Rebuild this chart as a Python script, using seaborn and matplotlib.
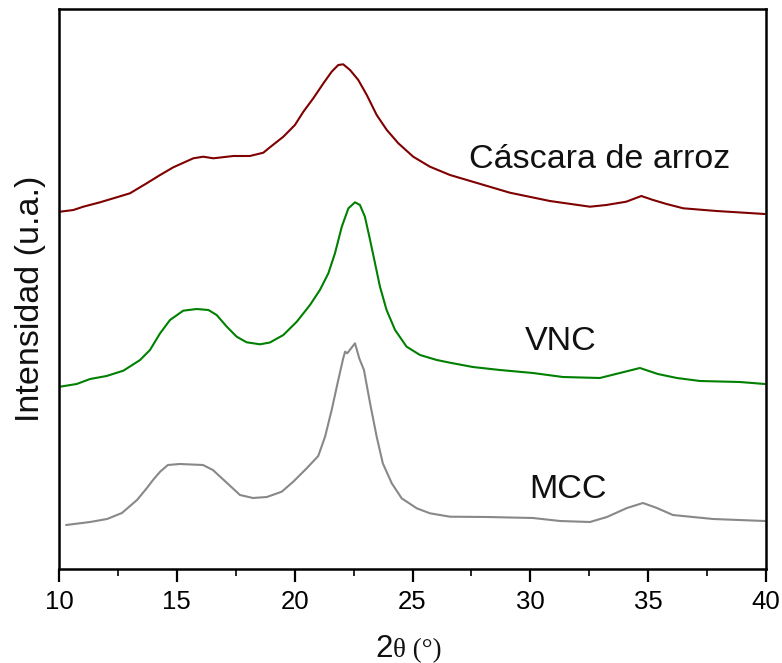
import numpy as np
import pandas as pd
import matplotlib
matplotlib.use("Agg")
import matplotlib.pyplot as plt
from matplotlib import font_manager
from matplotlib.ticker import MultipleLocator
import seaborn as sns

# ---- data (intensity in arbitrary units) ----
cascara_x = [10.04, 10.61, 11.03, 11.74, 12.45, 13.01, 13.72, 14.29, 14.85, 15.70, 16.12, 16.55,
             17.40, 18.10, 18.67, 18.95, 19.52, 20.01, 20.37, 20.79, 21.22, 21.57, 21.85, 22.06,
             22.35, 22.70, 23.06, 23.48, 23.91, 24.40, 25.03, 25.74, 26.59, 27.31, 29.13, 30.83,
             32.53, 33.22, 34.07, 34.71, 35.21, 35.78, 36.49, 37.90, 39.95]
cascara_y = [357.3, 359, 362.3, 366.7, 371.7, 375.7, 385.7, 394, 401.7, 410.7, 412.3, 410.7,
             413, 413, 416.3, 421.7, 432.3, 444, 457.3, 470.7, 485.7, 497.3, 504, 504.7,
             499, 489, 474, 454, 439, 425.7, 412.3, 402.3, 394, 389, 376.3, 368,
             362.3, 364, 367.3, 373, 369, 365, 360.7, 358, 355]

vnc_x = [10.04, 10.75, 11.32, 12.02, 12.73, 13.44, 13.86, 14.29, 14.71, 15.27, 15.84, 16.34,
         16.69, 17.12, 17.54, 17.96, 18.53, 18.95, 19.52, 20.09, 20.65, 21.07, 21.43, 21.71,
         22.00, 22.28, 22.56, 22.77, 22.98, 23.20, 23.41, 23.62, 23.90, 24.26, 24.75, 25.32,
         26.03, 26.59, 27.56, 28.71, 30.11, 31.38, 32.95, 33.80, 34.65, 35.41, 36.22, 37.20,
         38.89, 39.95]
vnc_y = [182.3, 185, 190, 193, 198.3, 209, 219, 235.7, 249, 258.3, 260, 259,
         254, 242.3, 232.3, 226.7, 224.7, 226.5, 234, 247.3, 264, 279, 295.7, 315.7,
         342.3, 360.7, 366.7, 364, 352.3, 329, 305.7, 282.3, 259, 239, 222.3, 214,
         209, 206.3, 202, 199, 196, 192, 191, 196, 201, 195, 191, 188,
         187, 185]

mcc_x = [10.30, 11.32, 12.04, 12.67, 13.31, 13.72, 13.99, 14.29, 14.62, 15.13, 16.11, 16.53,
         17.13, 17.68, 18.23, 18.82, 19.45, 19.94, 20.51, 21.00, 21.29, 21.57, 21.85, 22.06,
         22.14, 22.23, 22.56, 22.74, 22.94, 23.20, 23.48, 23.74, 24.12, 24.54, 25.18, 25.74,
         26.59, 28.16, 30.11, 31.26, 32.53, 33.25, 34.10, 34.78, 35.37, 36.05, 37.75, 39.95]
mcc_y = [44, 47, 50, 56, 69, 80.7, 89, 97.3, 104, 105, 104, 99,
         86, 74, 71, 72, 77.3, 87.3, 100.7, 113, 132.3, 159, 189, 210.7,
         217.3, 215.7, 225.7, 210.7, 199, 165.7, 132.3, 105.7, 85.7, 70.7, 60.7, 55.7,
         52.3, 52, 51, 48, 47, 52, 61, 66, 61, 54, 50, 48]

series_names = ["Cáscara de arroz", "VNC", "MCC"]
series_colors = ["#7f0000", "#008000", "#888888"]
label_pos = [(32.95, 409), (31.3, 228), (31.6, 80)]
xticks = [10, 15, 20, 25, 30, 35, 40]

# ---- figure ----
sns.set_theme(style="white")
avail = {f.name for f in font_manager.fontManager.ttflist}
base_font = "Liberation Sans" if "Liberation Sans" in avail else "DejaVu Sans"
narrow_font = "Liberation Sans Narrow" if "Liberation Sans Narrow" in avail else base_font
plt.rcParams["font.family"] = [base_font, "DejaVu Sans"]

fig = plt.figure(figsize=(7.82, 6.63), dpi=100)
ax = fig.add_axes([59 / 782, 1 - 569 / 663, (766 - 59) / 782, (569 - 9) / 663])

frames = []
for name, xs, ys in zip(series_names, [cascara_x, vnc_x, mcc_x], [cascara_y, vnc_y, mcc_y]):
    frames.append(pd.DataFrame({"x": xs, "y": ys, "s": name}))
df = pd.concat(frames, ignore_index=True)

sns.lineplot(data=df, x="x", y="y", hue="s", palette=dict(zip(series_names, series_colors)),
             sort=False, estimator=None, linewidth=1.5, legend=False, ax=ax)

for name, (tx, ty) in zip(series_names, label_pos):
    ax.text(tx, ty, name, ha="center", va="center", fontsize=24.5, color="#111111",
            family=[base_font, "DejaVu Sans"])

ax.set_xlim(10, 40)
ax.set_ylim(0, 560)
ax.set_xticks(xticks)
ax.xaxis.set_minor_locator(MultipleLocator(2.5))
ax.set_yticks([])
ax.tick_params(axis="x", which="major", direction="out", length=9, width=1.6,
               labelsize=18.5, pad=6, colors="black", bottom=True)
ax.tick_params(axis="x", which="minor", direction="out", length=5, width=1.4, bottom=True)
for lab in ax.get_xticklabels():
    lab.set_family([narrow_font, "DejaVu Sans"])
for sp in ax.spines.values():
    sp.set_color("black")
    sp.set_linewidth(1.8)

ax.set_xlabel("")
ax.set_ylabel("Intensidad (u.a.)", fontsize=24.5, labelpad=9, color="#111111")
ax.yaxis.label.set_y(0.482)

# x label: "2" in sans, "θ (°)" serif
fig.text(393 / 782, 1 - 657 / 663, "2", ha="right", va="baseline", fontsize=22.5,
         family=[base_font, "DejaVu Sans"], color="#111111")
fig.text(393 / 782, 1 - 657 / 663, "θ (°)", ha="left", va="baseline", fontsize=19.5,
         family=["Liberation Serif", "DejaVu Serif"], color="#111111")

fig.savefig("out.png", dpi=100)
